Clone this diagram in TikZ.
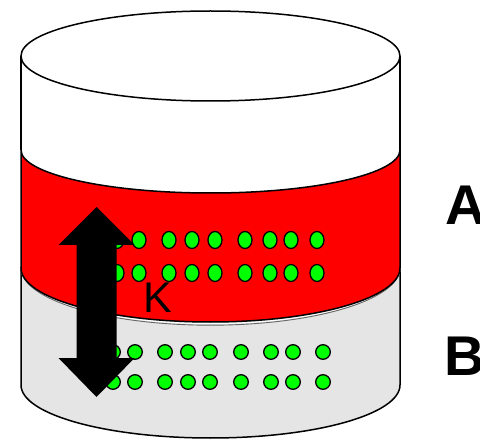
\documentclass[tikz,border=0pt]{standalone}
\usepackage{fontspec}
\setmainfont{Liberation Sans}
\definecolor{bandred}{HTML}{FF0000}
\definecolor{lowgray}{HTML}{E5E5E5}
\definecolor{dotgreen}{HTML}{00FF00}
\begin{document}
\begin{tikzpicture}[x=1pt,y=1pt,
  outline/.style={draw=black,line width=1.5pt},
  dotA/.style={fill=dotgreen,draw=black,line width=1.3pt},
  lbl/.style={inner sep=0pt,font=\fontsize{43}{43}\selectfont},
  bigl/.style={inner sep=0pt,anchor=base west,font=\bfseries\fontsize{56}{56}\selectfont}]
\useasboundingbox (0,0) rectangle (480,440);
% gray lower body
\path[fill=lowgray,outline] (21,172) -- (21,55)
  arc[start angle=180,end angle=360,x radius=189.5,y radius=53] -- (400,172) -- cycle;
% rim of gray part just below red band
\draw[white,line width=1.2pt] (21,172) arc[start angle=180,end angle=360,x radius=189.5,y radius=55.6];
\draw[gray!80!black,line width=0.9pt] (21,172) arc[start angle=180,end angle=360,x radius=189.5,y radius=57.2];
% red band
\path[fill=bandred,outline] (21,290) -- (21,172)
  arc[start angle=180,end angle=360,x radius=189.5,y radius=54] -- (400,290)
  arc[start angle=360,end angle=180,x radius=189.5,y radius=43] -- cycle;
% white top section sides
\draw[outline] (21,384) -- (21,290);
\draw[outline] (400,384) -- (400,290);
% top ellipse
\path[fill=white,outline] (210.5,384) ellipse[x radius=189.5,y radius=45];
% green dots, upper rows (red band)
\foreach \xx in {117,139,169,192,215,245,270,291,317}{
  \path[dotA] (\xx,200) ellipse[x radius=7,y radius=8.5];
  \path[dotA] (\xx,167) ellipse[x radius=7,y radius=8.5];
}
% green dots, lower rows (gray part)
\foreach \xx in {113,135,165,188,210,241,271,293,323}{
  \path[dotA] (\xx,88) circle[radius=7.3];
  \path[dotA] (\xx,58) circle[radius=7.3];
}
% double-headed block arrow
\fill[black] (96.5,233) -- (134.5,195) -- (116.5,195) -- (116.5,82) -- (134.5,82)
  -- (96.5,43) -- (58.5,82) -- (76.5,82) -- (76.5,195) -- (58.5,195) -- cycle;
% labels
\node[lbl] (k) at (158,142) {K};
\node[bigl] (a) at (445,215) {A};
\node[bigl] (b) at (444,65) {B};
\end{tikzpicture}
\end{document}
